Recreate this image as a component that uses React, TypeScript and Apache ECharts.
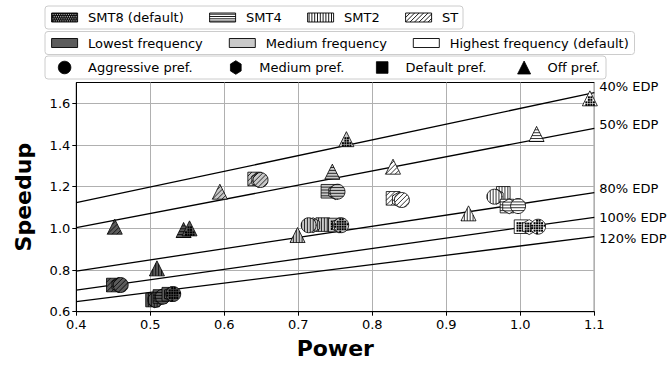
import React, { useEffect, useRef } from "react";
import * as echarts from "echarts";

const smtLevels = ["SMT8 (default)", "SMT4", "SMT2", "ST"];
const freqLevels = ["Lowest frequency", "Medium frequency", "Highest frequency (default)"];
const prefLevels = ["Aggressive pref.", "Medium pref.", "Default pref.", "Off pref."];

// rows: SMT8, SMT4, SMT2, ST ; cols: Aggressive, Medium, Default, Off
const lowestPower = [
  [0.531, 0.528, 0.525, 0.553],
  [0.517, 0.515, 0.513, 0.545],
  [0.507, 0.506, 0.503, 0.509],
  [0.460, 0.457, 0.450, 0.452],
];
const lowestSpeedup = [
  [0.685, 0.684, 0.684, 1.0],
  [0.672, 0.671, 0.673, 0.992],
  [0.657, 0.655, 0.656, 0.808],
  [0.728, 0.728, 0.728, 1.008],
];
const mediumPower = [
  [0.758, 0.755, 0.75, 0.765],
  [0.753, 0.75, 0.74, 0.746],
  [0.714, 0.72, 0.733, 0.699],
  [0.649, 0.646, 0.641, 0.594],
];
const mediumSpeedup = [
  [1.015, 1.014, 1.016, 1.428],
  [1.176, 1.174, 1.178, 1.272],
  [1.015, 1.015, 1.018, 0.968],
  [1.232, 1.232, 1.237, 1.176],
];
const highestPower = [
  [1.024, 1.012, 1.001, 1.094],
  [0.997, 0.985, 0.982, 1.022],
  [0.965, 0.968, 0.977, 0.93],
  [0.84, 0.836, 0.828, 0.828],
];
const highestSpeedup = [
  [1.008, 1.006, 1.008, 1.624],
  [1.107, 1.106, 1.107, 1.453],
  [1.152, 1.152, 1.168, 1.072],
  [1.136, 1.138, 1.144, 1.296],
];

const edpLabels = ["40% EDP", "50% EDP", "80% EDP", "100% EDP", "120% EDP"];
const edpPower = [0.4, 1.1];
const edpSpeedup = [
  [1.123, 1.651],
  [1.003, 1.48],
  [0.795, 1.171],
  [0.704, 1.053],
  [0.648, 0.96],
];

const xTicks = [0.4, 0.5, 0.6, 0.7, 0.8, 0.9, 1.0, 1.1];
const yTicks = [0.6, 0.8, 1.0, 1.2, 1.4, 1.6];

// ---- styles ----
const FONT = '"DejaVu Sans", sans-serif';
const freqColors = ["#5c5c5c", "#c9c9c9", "#ffffff"];
const edpLabelOffsets = [-6, -4, -4, 0, 2];

const powerByFreq = [lowestPower, mediumPower, highestPower];
const speedupByFreq = [lowestSpeedup, mediumSpeedup, highestSpeedup];

// ---- marker geometry (local, pixels) ----
const R = 7.5;
function circlePoly(r: number) {
  const pts: number[][] = [];
  for (let i = 0; i < 36; i++) {
    const a = (i * 2 * Math.PI) / 36;
    pts.push([r * Math.cos(a), r * Math.sin(a)]);
  }
  return pts;
}
function hexPoly(r: number) {
  const pts: number[][] = [];
  for (let i = 0; i < 6; i++) {
    const a = -Math.PI / 2 + (i * Math.PI) / 3;
    pts.push([r * Math.cos(a), r * Math.sin(a)]);
  }
  return pts;
}
const shapePolys = [
  circlePoly(R),
  hexPoly(R),
  [[-6.8, -6.8], [6.8, -6.8], [6.8, 6.8], [-6.8, 6.8]],
  [[0, -R], [R, R], [-R, R]],
];

function clipLine(poly: number[][], n: number[], o: number): number[][] | null {
  const pts: number[][] = [];
  for (let i = 0; i < poly.length; i++) {
    const a = poly[i];
    const b = poly[(i + 1) % poly.length];
    const fa = a[0] * n[0] + a[1] * n[1] - o;
    const fb = b[0] * n[0] + b[1] * n[1] - o;
    if ((fa <= 0 && fb > 0) || (fa > 0 && fb <= 0)) {
      const t = fa / (fa - fb);
      pts.push([a[0] + t * (b[0] - a[0]), a[1] + t * (b[1] - a[1])]);
    }
  }
  if (pts.length < 2) return null;
  let mn = Infinity, mx = -Infinity;
  let pMin = pts[0], pMax = pts[0];
  for (const p of pts) {
    const s = -p[0] * n[1] + p[1] * n[0];
    if (s < mn) { mn = s; pMin = p; }
    if (s > mx) { mx = s; pMax = p; }
  }
  return [pMin, pMax];
}

function inside(poly: number[][], x: number, y: number, margin: number) {
  let sign = 0;
  for (let i = 0; i < poly.length; i++) {
    const a = poly[i];
    const b = poly[(i + 1) % poly.length];
    const ex = b[0] - a[0], ey = b[1] - a[1];
    const len = Math.hypot(ex, ey);
    const c = (ex * (y - a[1]) - ey * (x - a[0])) / len;
    const s = c > 0 ? 1 : -1;
    if (Math.abs(c) < margin) return false;
    if (sign === 0) sign = s;
    else if (s !== sign) return false;
  }
  return true;
}

function hatchEls(kind: number, poly: number[][], cx: number, cy: number, ext: number) {
  const els: any[] = [];
  const ls = { stroke: "#000", lineWidth: 0.8 };
  if (kind === 0) {
    const pitch = 2.5;
    const sz = 2.0;
    for (let yy = -ext; yy <= ext; yy += pitch) {
      for (let xx = -ext; xx <= ext; xx += pitch) {
        if (inside(poly, xx, yy, 0.9)) {
          els.push({
            type: "rect",
            shape: { x: cx + xx - sz / 2, y: cy + yy - sz / 2, width: sz, height: sz },
            style: { fill: "#000", stroke: null },
          });
        }
      }
    }
    return els;
  }
  let n: number[];
  let sp: number;
  if (kind === 1) { n = [0, 1]; sp = 2.9; }
  else if (kind === 2) { n = [1, 0]; sp = 2.9; }
  else { n = [Math.SQRT1_2, Math.SQRT1_2]; sp = 3.4; }
  for (let o = -ext + sp / 2; o < ext; o += sp) {
    const seg = clipLine(poly, n, o);
    if (!seg) continue;
    els.push({
      type: "line",
      shape: { x1: cx + seg[0][0], y1: cy + seg[0][1], x2: cx + seg[1][0], y2: cy + seg[1][1] },
      style: ls,
    });
  }
  return els;
}

function makeRenderItem(color: string, smt: number) {
  return (params: any, api: any) => {
    const x = api.value(0);
    const y = api.value(1);
    const p = api.value(2);
    const c = api.coord([x, y]);
    const cx = c[0], cy = c[1];
    const poly = shapePolys[p];
    const children: any[] = [];
    if (p === 0) {
      children.push({ type: "circle", shape: { cx, cy, r: R }, style: { fill: color, stroke: null } });
    } else {
      children.push({ type: "polygon", shape: { points: poly.map((q) => [cx + q[0], cy + q[1]]) }, style: { fill: color, stroke: null } });
    }
    children.push(...hatchEls(smt, poly, cx, cy, R + 1));
    if (p === 0) {
      children.push({ type: "circle", shape: { cx, cy, r: R }, style: { fill: "none", stroke: "#000", lineWidth: 0.8 } });
    } else {
      children.push({ type: "polygon", shape: { points: poly.map((q) => [cx + q[0], cy + q[1]]) }, style: { fill: "none", stroke: "#000", lineWidth: 0.8 } });
    }
    return { type: "group", children };
  };
}

function buildSeries() {
  const series: any[] = [];
  edpLabels.forEach((lab, k) => {
    series.push({
      type: "line",
      name: lab,
      data: edpPower.map((p, i) => [p, edpSpeedup[k][i]]),
      symbol: "none",
      lineStyle: { color: "#000", width: 1.3 },
      z: 1,
      silent: true,
      endLabel: {
        show: true,
        formatter: lab,
        color: "#000",
        fontSize: 13,
        fontFamily: FONT,
        distance: 5,
        offset: [0, edpLabelOffsets[k]],
      },
    });
  });
  const smtOrder = [3, 2, 1, 0];
  const prefOrder = [2, 1, 0, 3];
  for (let f = 0; f < 3; f++) {
    for (const s of smtOrder) {
      series.push({
        type: "custom",
        name: freqLevels[f] + " " + smtLevels[s],
        z: 3,
        silent: true,
        encode: { x: 0, y: 1 },
        renderItem: makeRenderItem(freqColors[f], s),
        data: prefOrder.map((p) => [powerByFreq[f][s][p], speedupByFreq[f][s][p], p]),
      });
    }
  }
  return series;
}

// ---- legend drawing (manual, three framed rows) ----
function patternEls(kind: number, x: number, y: number, w: number, h: number, fill: string) {
  const els: any[] = [];
  els.push({ type: "rect", shape: { x, y, width: w, height: h }, style: { fill, stroke: null } });
  const ls = { stroke: "#000", lineWidth: 0.9 };
  if (kind === 0) {
    els.push({ type: "rect", shape: { x, y, width: w, height: h }, style: { fill: "#111", stroke: null } });
    let row = 0;
    for (let yy = y + 1.2; yy < y + h - 0.5; yy += 2.1) {
      for (let xx = x + 1 + (row % 2) * 1.1; xx < x + w - 0.5; xx += 2.2) {
        els.push({ type: "rect", shape: { x: xx, y: yy, width: 0.9, height: 0.9 }, style: { fill: "#fff", stroke: null } });
      }
      row++;
    }
  } else if (kind === 1) {
    for (let yy = y + 1.2; yy < y + h; yy += 2.3) {
      els.push({ type: "line", shape: { x1: x, y1: yy, x2: x + w, y2: yy }, style: ls });
    }
  } else if (kind === 2) {
    for (let xx = x + 1.5; xx < x + w; xx += 2.8) {
      els.push({ type: "line", shape: { x1: xx, y1: y, x2: xx, y2: y + h }, style: ls });
    }
  } else if (kind === 3) {
    for (let c = -h; c < w; c += 4.5) {
      const t0 = Math.max(0, -c);
      const t1 = Math.min(h, w - c);
      if (t1 <= t0) continue;
      els.push({
        type: "line",
        shape: { x1: x + c + t0, y1: y + h - t0, x2: x + c + t1, y2: y + h - t1 },
        style: ls,
      });
    }
  }
  els.push({ type: "rect", shape: { x, y, width: w, height: h }, style: { fill: "none", stroke: "#000", lineWidth: 0.9 } });
  return els;
}

function textEl(text: string, x: number, y: number) {
  return {
    type: "text",
    style: {
      text,
      x,
      y,
      fill: "#000",
      font: `13px ${FONT}`,
      align: "left",
      verticalAlign: "middle",
      textAlign: "left",
      textVerticalAlign: "middle",
    },
  };
}

function markerEl(kind: number, cx: number, cy: number) {
  const st = { fill: "#000", stroke: "#000", lineWidth: 0.8 };
  if (kind === 0) return { type: "circle", shape: { cx, cy, r: 6.3 }, style: st };
  if (kind === 1) {
    const pts: number[][] = [];
    for (let i = 0; i < 6; i++) {
      const a = -Math.PI / 2 + (i * Math.PI) / 3;
      pts.push([cx + 6.2 * Math.cos(a), cy + 6.8 * Math.sin(a)]);
    }
    return { type: "polygon", shape: { points: pts }, style: st };
  }
  if (kind === 2) return { type: "rect", shape: { x: cx - 5.8, y: cy - 5.8, width: 11.6, height: 11.6 }, style: st };
  return {
    type: "polygon",
    shape: { points: [[cx, cy - 6.5], [cx + 6.5, cy + 6.5], [cx - 6.5, cy + 6.5]] },
    style: st,
  };
}

function buildLegend() {
  const els: any[] = [];
  const rowY = [17.5, 43, 67.5];
  const boxH = 23;
  const boxRight = [463, 634.5, 606];
  rowY.forEach((cy, i) => {
    els.push({
      type: "rect",
      shape: { x: 45, y: cy - boxH / 2, width: boxRight[i] - 45, height: boxH, r: 3 },
      style: { fill: "rgba(255,255,255,0.8)", stroke: "#cccccc", lineWidth: 1 },
    });
  });
  const pw = 26, ph = 9;
  const r1Text = [88, 246, 344, 442];
  smtLevels.forEach((lab, i) => {
    const tx = r1Text[i];
    els.push(...patternEls(i, tx - 10.4 - pw, rowY[0] - ph / 2, pw, ph, "#fff"));
    els.push(textEl(lab, tx, rowY[0]));
  });
  const r2Text = [88, 265.7, 449.7];
  freqLevels.forEach((lab, i) => {
    const tx = r2Text[i];
    els.push({
      type: "rect",
      shape: { x: tx - 10.4 - pw, y: rowY[1] - ph / 2, width: pw, height: ph },
      style: { fill: freqColors[i], stroke: "#000", lineWidth: 0.9 },
    });
    els.push(textEl(lab, tx, rowY[1]));
  });
  const r3Text = [88, 259.2, 405.6, 547.5];
  prefLevels.forEach((lab, i) => {
    const tx = r3Text[i];
    els.push(markerEl(i, tx - 10.4 - pw / 2, rowY[2]));
    els.push(textEl(lab, tx, rowY[2]));
  });
  return els;
}

export default function App() {
  const ref = useRef<HTMLDivElement>(null);
  useEffect(() => {
    if (!ref.current) return;
    const chart = echarts.init(ref.current, null, { renderer: "svg" });
    const option: any = {
      animation: false,
      backgroundColor: "#fff",
      textStyle: { fontFamily: FONT },
      grid: {
        left: 76.3,
        right: 72.7,
        top: 82.5,
        bottom: 53.3,
        show: true,
        borderColor: "#000",
        borderWidth: 1,
        backgroundColor: "transparent",
      },
      xAxis: {
        type: "value",
        min: 0.4,
        max: 1.1,
        interval: 0.1,
        name: "Power",
        nameLocation: "middle",
        nameGap: 26,
        nameTextStyle: { fontSize: 22, fontWeight: "bold", color: "#000", fontFamily: FONT },
        axisLine: { show: true, lineStyle: { color: "#000", width: 1 } },
        axisTick: { show: true, length: 4, lineStyle: { color: "#000", width: 1 }, customValues: xTicks },
        axisLabel: {
          color: "#000",
          fontSize: 13,
          fontFamily: FONT,
          margin: 6,
          customValues: xTicks,
          formatter: (v: number) => v.toFixed(1),
        },
        splitLine: { show: true, lineStyle: { color: "#b0b0b0", width: 1 } },
      },
      yAxis: {
        type: "value",
        min: 0.6,
        max: 1.7,
        interval: 0.2,
        name: "Speedup",
        nameLocation: "middle",
        nameGap: 42,
        nameTextStyle: { fontSize: 22, fontWeight: "bold", color: "#000", fontFamily: FONT },
        axisLine: { show: true, lineStyle: { color: "#000", width: 1 } },
        axisTick: { show: true, length: 4, lineStyle: { color: "#000", width: 1 }, customValues: yTicks },
        axisLabel: {
          color: "#000",
          fontSize: 13,
          fontFamily: FONT,
          margin: 6,
          customValues: yTicks,
          formatter: (v: number) => v.toFixed(1),
        },
        splitLine: { show: true, lineStyle: { color: "#b0b0b0", width: 1 } },
      },
      series: buildSeries(),
      graphic: { elements: buildLegend() },
    };
    chart.setOption(option);
    return () => chart.dispose();
  }, []);
  return (
    <div
      ref={ref}
      style={{ position: "fixed", left: 0, top: 0, width: 667, height: 365, background: "#fff" }}
    />
  );
}
